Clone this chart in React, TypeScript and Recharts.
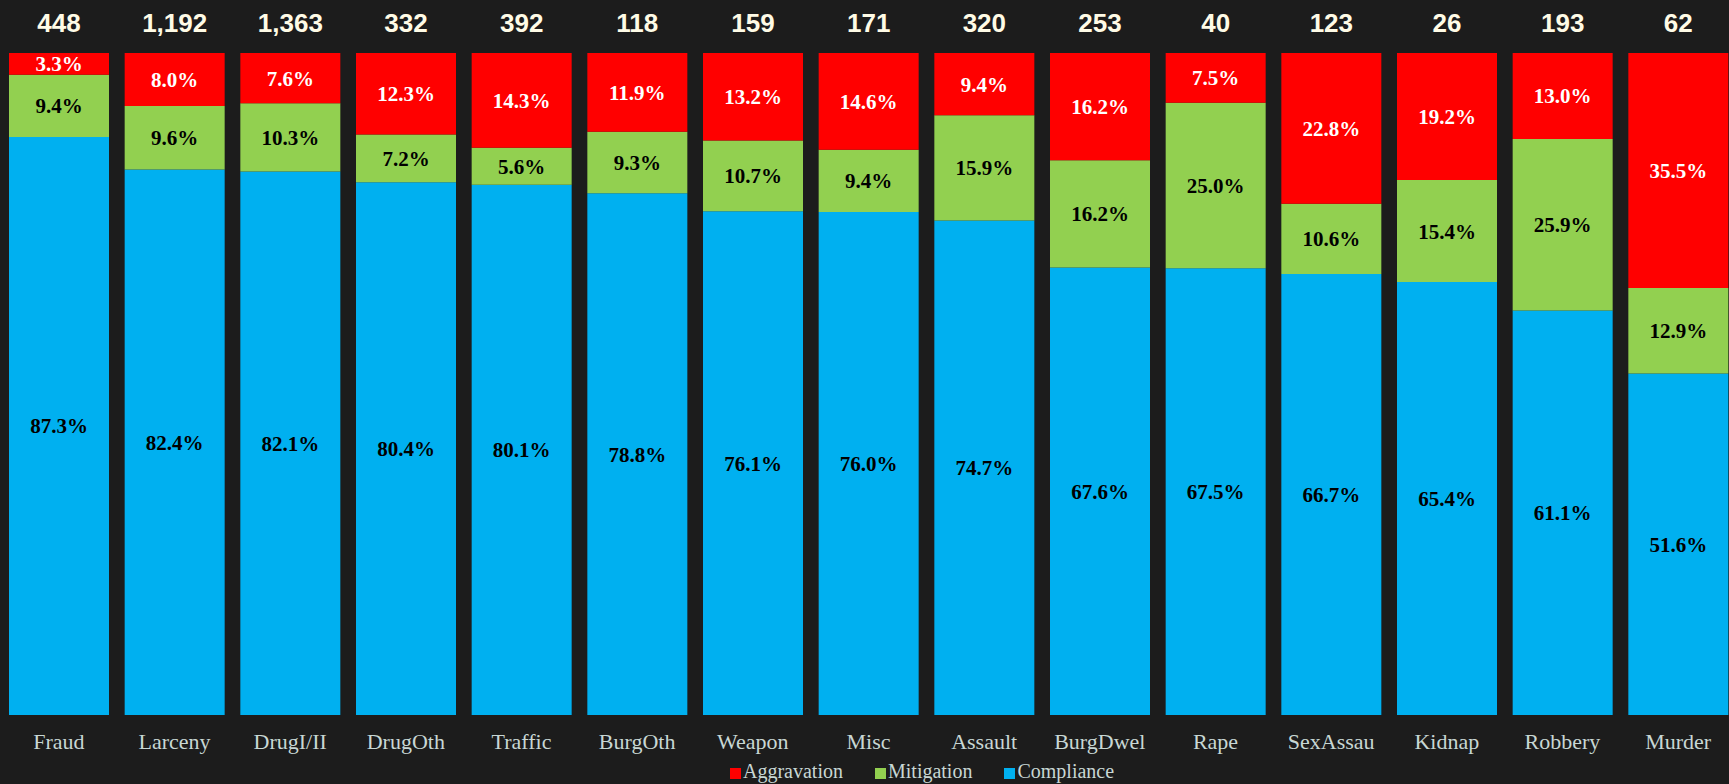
import { BarChart, Bar, XAxis, YAxis, LabelList } from "recharts";

const categories = ["Fraud", "Larceny", "DrugI/II", "DrugOth", "Traffic", "BurgOth", "Weapon", "Misc", "Assault", "BurgDwel", "Rape", "SexAssau", "Kidnap", "Robbery", "Murder"];
const counts = [448, 1192, 1363, 332, 392, 118, 159, 171, 320, 253, 40, 123, 26, 193, 62];
const compliance = [87.3, 82.4, 82.1, 80.4, 80.1, 78.8, 76.1, 76.0, 74.7, 67.6, 67.5, 66.7, 65.4, 61.1, 51.6];
const mitigation = [9.4, 9.6, 10.3, 7.2, 5.6, 9.3, 10.7, 9.4, 15.9, 16.2, 25.0, 10.6, 15.4, 25.9, 12.9];
const aggravation = [3.3, 8.0, 7.6, 12.3, 14.3, 11.9, 13.2, 14.6, 9.4, 16.2, 7.5, 22.8, 19.2, 13.0, 35.5];

const data = categories.map((name, i) => ({
  name,
  n: counts[i],
  comp: compliance[i],
  mit: mitigation[i],
  agg: aggravation[i],
}));

const BG = "#1c1c1c";
const RED = "#ff0000";
const GREEN = "#92d050";
const BLUE = "#00b0f0";
const AXIS_TEXT = "#c8d7d4";
const SERIF = "'Liberation Serif', 'DejaVu Serif', serif";
const SANS = "'Liberation Sans', Arial, sans-serif";

const pct = (v: any) => `${Number(v).toFixed(1)}%`;

function CategoryTick({ x, y, payload }: any) {
  return (
    <text x={x} y={y + 34} textAnchor="middle" fill={AXIS_TEXT} fontSize={22} fontFamily={SERIF}>
      {payload.value}
    </text>
  );
}

// sample size printed above each column
function CountLabel(props: any) {
  const { x, width, value } = props;
  return (
    <text x={x + width / 2} y={32} textAnchor="middle" fill="#fffbe6" fontSize={26} fontWeight="bold" fontFamily={SANS}>
      {Number(value).toLocaleString("en-US")}
    </text>
  );
}

const legendItems = [
  { label: "Aggravation", color: RED },
  { label: "Mitigation", color: GREEN },
  { label: "Compliance", color: BLUE },
];

export default function App() {
  return (
    <div style={{ position: "absolute", left: 0, top: 0, width: 1729, height: 784, background: BG, overflow: "hidden" }}>
      <BarChart
        width={1736}
        height={784}
        data={data}
        stackOffset="expand"
        margin={{ top: 53, right: 0, left: 1, bottom: 0 }}
      >
        <XAxis dataKey="name" height={69} axisLine={false} tickLine={false} tickSize={0} tickMargin={0} tick={<CategoryTick />} interval={0} />
        <YAxis hide domain={[0, 1]} />
        <Bar dataKey="comp" stackId="a" fill={BLUE} barSize={100} isAnimationActive={false}>
          <LabelList dataKey="comp" position="center" fill="#000" fontSize={21} fontWeight="bold" fontFamily={SERIF} formatter={pct} />
        </Bar>
        <Bar dataKey="mit" stackId="a" fill={GREEN} barSize={100} isAnimationActive={false}>
          <LabelList dataKey="mit" position="center" fill="#000" fontSize={21} fontWeight="bold" fontFamily={SERIF} formatter={pct} />
        </Bar>
        <Bar dataKey="agg" stackId="a" fill={RED} barSize={100} isAnimationActive={false}>
          <LabelList dataKey="agg" position="center" fill="#ffffff" fontSize={21} fontWeight="bold" fontFamily={SERIF} formatter={pct} />
          <LabelList dataKey="n" content={<CountLabel />} />
        </Bar>
      </BarChart>
      <div style={{ position: "absolute", left: 730, top: 761, height: 20, display: "flex", alignItems: "center", fontFamily: SERIF, fontSize: 20, lineHeight: "20px", color: AXIS_TEXT }}>
        {legendItems.map((it) => (
          <div key={it.label} style={{ display: "flex", alignItems: "center", marginRight: 32 }}>
            <span style={{ display: "inline-block", width: 11, height: 11, background: it.color, marginRight: 2, position: "relative", top: 2 }} />
            <span>{it.label}</span>
          </div>
        ))}
      </div>
    </div>
  );
}
